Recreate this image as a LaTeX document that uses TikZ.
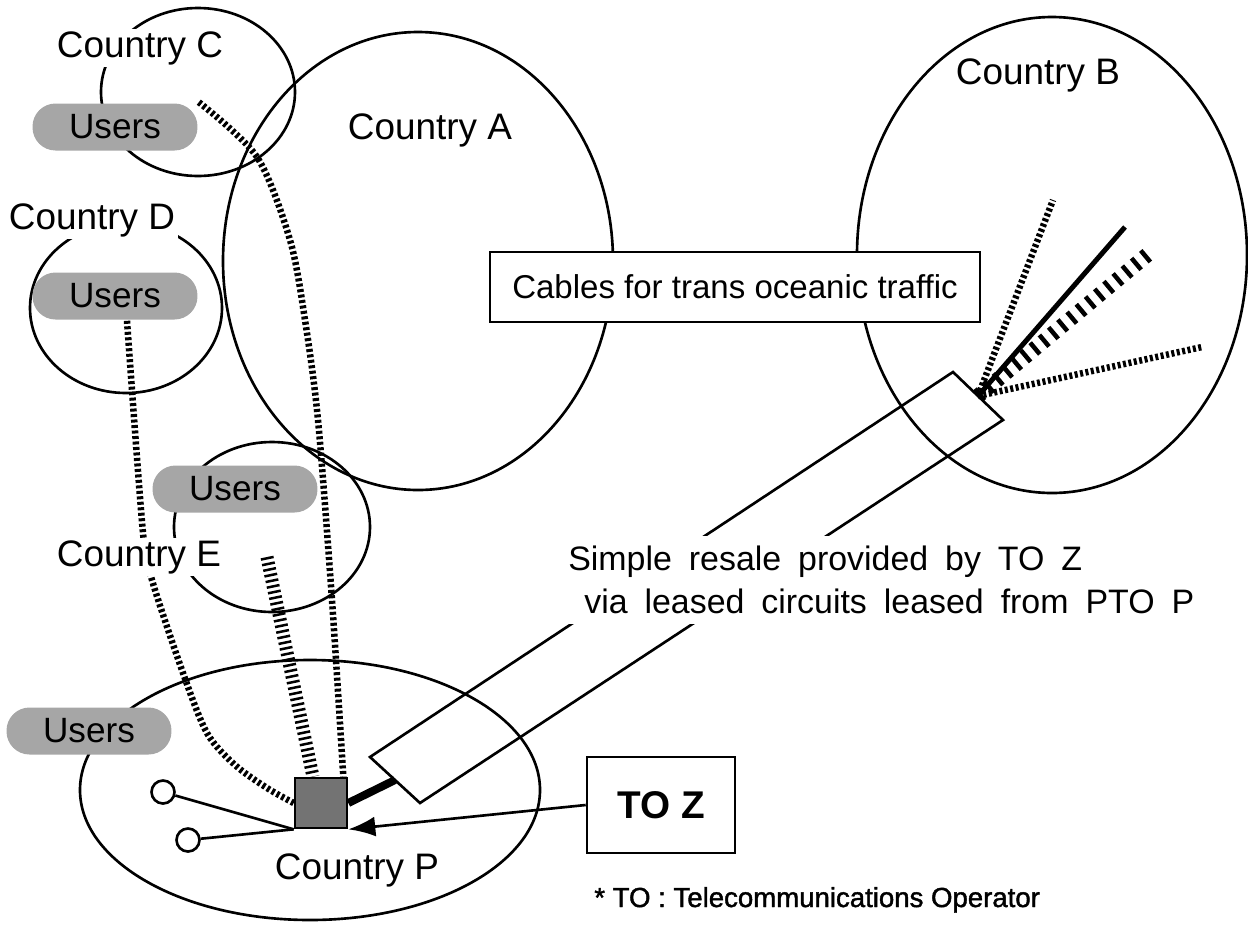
\documentclass[tikz,border=0pt]{standalone}
\usepackage{fontspec}
\setmainfont{Liberation Sans}
\newfontfamily\notefont[FakeBold=1.5]{Liberation Sans}
\usetikzlibrary{arrows.meta,backgrounds,calc}

\def\pixel{0.02cm}

\begin{document}
\begin{tikzpicture}[x=\pixel,y=-\pixel,line width=1.5pt]
    \tikzstyle{country}=[fill=white,inner sep=1.5pt,font=\fontsize{21}{25}\selectfont]
    \tikzstyle{users}=[fill=black!35,rounded corners=0.46cm,minimum width=3.3cm,minimum height=0.94cm,inner sep=0pt,font=\fontsize{20}{24}\selectfont]
    \tikzstyle{box}=[draw,fill=white,inner sep=0pt]
    \tikzstyle{terminal}=[draw,circle,fill=white,minimum size=0.46cm,inner sep=0pt]
    \tikzstyle{rope}=[line width=0.13cm,dash pattern=on 0.06cm off 0.05cm]
    \tikzstyle{thick rope}=[line width=0.26cm,dash pattern=on 0.05cm off 0.065cm]
    \tikzstyle{rail}=[line width=0.3cm,dash pattern=on 0.09cm off 0.15cm]

    \useasboundingbox (0,0) rectangle (1248,924);

    % Country names.
    \node[country] (C) at (140,48) {Country C};
    \node[country] (A) at (430,130) {Country A};
    \node[country] (B) at (1038,75) {Country B};
    \node[country] (D) at (92,220) {Country D};
    \node[country] (E) at (139,557) {Country E};
    \node[country] (P) at (357,870) {Country P};

    % Users in each country.
    \node[users] (uC) at (115,127) {Users};
    \node[users] (uD) at (115,296) {Users};
    \node[users] (uE) at (235,489) {Users};
    \node[users] (uP) at (89,731) {Users};

    % Boxes and the exchange in P.
    \node[box,minimum width=9.8cm,minimum height=1.4cm,font=\fontsize{18.8}{22}\selectfont] (cables) at (735,287) {Cables for trans oceanic traffic};
    \node[box,minimum width=2.96cm,minimum height=1.92cm,font=\fontsize{22}{26}\selectfont\bfseries] (toz) at (661,805) {TO Z};
    \node[draw,fill=black!55,minimum width=1.04cm,minimum height=1cm,inner sep=0pt] (exch) at (321,803) {};
    \node[terminal] (t1) at (163,792) {};
    \node[terminal] (t2) at (188,840) {};

    % Resale label, it cuts the leased circuit.
    \node[fill=white,anchor=north west,inner sep=0.2cm,align=left,font={\fontsize{19.3}{24.5}\selectfont\spaceskip=0.5em}] (resale) at (557,535)
        {Simple resale provided by TO Z\\\hspace*{0.32cm}via leased circuits leased from PTO P};
    \node[anchor=base west,inner sep=0pt,font=\notefont\fontsize{15.7}{19}\selectfont] (note) at (593,907) {* TO : Telecommunications Operator};

    \begin{scope}[on background layer]
    \begin{scope}[line width=1.5pt]
    % Draw the countries.
    \draw (198,92) ellipse [x radius=97,y radius=84];
    \draw (418,261) ellipse [x radius=195,y radius=229];
    \draw (1052,255) ellipse [x radius=195,y radius=238];
    \draw (126,308) ellipse [x radius=96,y radius=85];
    \draw (272,527) ellipse [x radius=98,y radius=85];
    \draw (310,790) ellipse [x radius=230,y radius=130];

    % Leased circuit from P to B.
    \coordinate (tP1) at (370,757);
    \coordinate (tP2) at (420,803);
    \coordinate (tB1) at (953,372);
    \coordinate (tB2) at (1003,420);
    \draw (tP1) -- (tB1) -- (tB2) -- (tP2) -- cycle;

    % Cables fanning out in B.
    \coordinate (fan) at ($(tB1)!0.5!(tB2)$);
    \foreach \name/\x/\y in {f1/1053/200,f2/1125/227,f3/1153/250,f4/1202/347}
        \coordinate (\name) at (\x,\y);
    \draw[rope] (fan) -- (f1);
    \draw[line width=0.1cm] (fan) -- (f2);
    \draw[rail] (fan) -- (f3);
    \draw[rope] (fan) -- (f4);

    % Lines from the users to the exchange.
    \draw[rope] plot[smooth] coordinates {(uC.north east) (257,157) (290,240) (305,320) (318,420) (332,600) ([xshift=-0.1cm]exch.north east)};
    \draw[rope] plot[smooth] coordinates {([xshift=0.24cm]uD.south) (143,533) (152,580) (183,673) (207,733) (235,765) (267,788) (exch.west)};
    \coordinate (eR) at (267,557);
    \draw[thick rope] (eR) -- ([xshift=-0.16cm]exch.north);
    \end{scope}
    \end{scope}

    % Local lines, TO Z and the circuit.
    \draw (t1) -- (exch.south west);
    \draw (t2) -- (exch.south west);
    \draw[line width=0.16cm] (exch.east) -- ($(tP1)!0.5!(tP2)$);
    \draw[-{Latex[length=0.54cm,width=0.4cm]}] (toz.west) -- (exch.south east);
\end{tikzpicture}
\end{document}
